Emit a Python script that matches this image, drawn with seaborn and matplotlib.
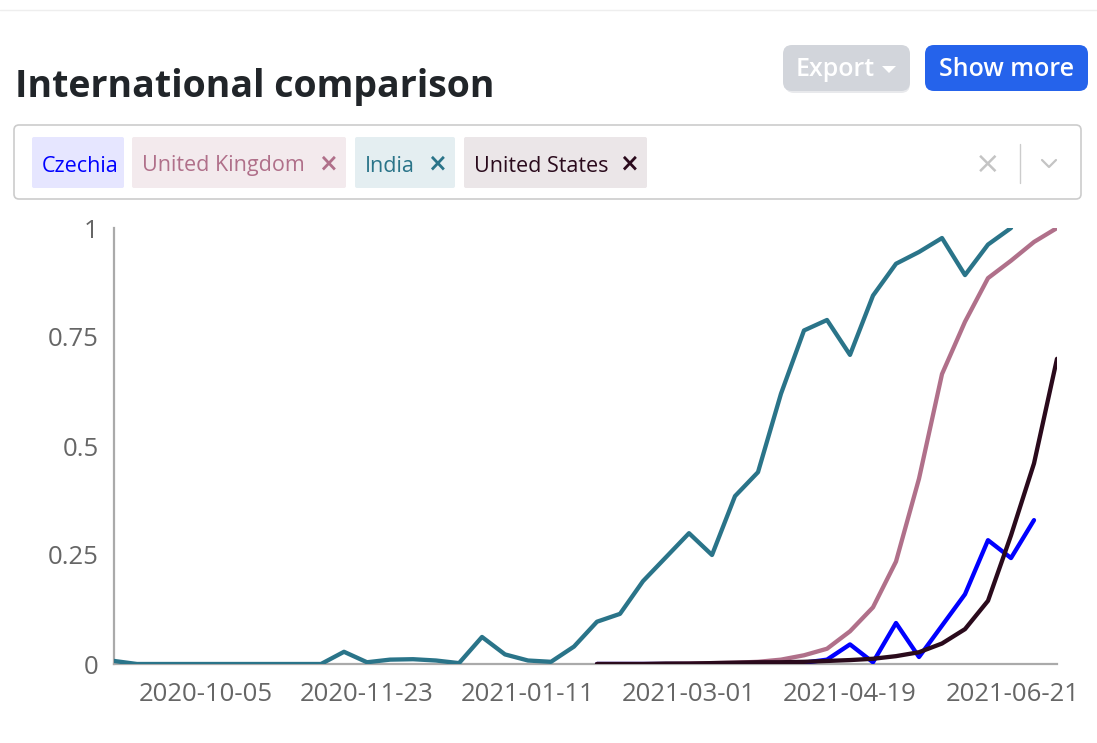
import pandas as pd
import seaborn as sns
import matplotlib.pyplot as plt
from matplotlib.patches import FancyBboxPatch, Polygon
from matplotlib.transforms import ScaledTranslation

# weekly share of population
india_start = "2020-09-07"
india = [0.007, 0, 0, 0, 0, 0, 0, 0, 0, 0,
         0.028, 0.004, 0.010, 0.011, 0.008, 0.002, 0.062, 0.022, 0.008, 0.005,
         0.040, 0.097, 0.115, 0.190, 0.245, 0.300, 0.250, 0.385, 0.440, 0.620,
         0.765, 0.789, 0.709, 0.845, 0.918, 0.945, 0.977, 0.892, 0.962, 1.000]

others_start = "2021-02-01"
czechia = [0, 0, 0, 0, 0, 0, 0, 0.001, 0.002, 0.003,
           0.010, 0.045, 0.004, 0.094, 0.016, 0.088, 0.160, 0.284, 0.243, 0.330]
uk = [0, 0, 0, 0, 0.001, 0.002, 0.003, 0.005, 0.010, 0.020,
      0.035, 0.075, 0.130, 0.235, 0.425, 0.665, 0.785, 0.885, 0.925, 0.968, 1.000]
us = [0, 0, 0, 0.001, 0.001, 0.002, 0.003, 0.004, 0.004, 0.005,
      0.007, 0.009, 0.012, 0.018, 0.027, 0.047, 0.080, 0.145, 0.295, 0.460, 0.700]

countries = ["Czechia", "United Kingdom", "India", "United States"]
colors = {"Czechia": "#0000ff", "United Kingdom": "#b0708a",
          "India": "#2a7489", "United States": "#2a0a1c"}
tag_bg = {"Czechia": "#e6e6ff", "United Kingdom": "#f3eaed",
          "India": "#e4eef1", "United States": "#ebe6e8"}

x_start, x_end = "2020-09-07", "2021-06-21"
x_ticks = ["2020-10-05", "2020-11-23", "2021-01-11", "2021-03-01", "2021-04-19", "2021-06-21"]
y_ticks = [0, 0.25, 0.5, 0.75, 1]
y_labels = ["0", "0.25", "0.5", "0.75", "1"]


def weekly(start, values, name):
    dates = pd.date_range(start, periods=len(values), freq="7D")
    return pd.DataFrame({"date": dates, "share": values, "country": name})


df = pd.concat([
    weekly(others_start, czechia, "Czechia"),
    weekly(others_start, uk, "United Kingdom"),
    weekly(india_start, india, "India"),
    weekly(others_start, us, "United States"),
])

sns.set_theme(style="white")
plt.rcParams["font.family"] = ["Open Sans", "DejaVu Sans"]

W, H = 1097, 743
fig = plt.figure(figsize=(W / 100, H / 100), dpi=100)
fig.patch.set_facecolor("white")

# page elements drawn in pixel coordinates
ui = fig.add_axes([0, 0, 1, 1])
ui.set_xlim(0, W)
ui.set_ylim(H, 0)
ui.axis("off")

ui.plot([0, W], [10, 10], color="#eeeeee", lw=1)
ui.text(15, 97, "International comparison", fontsize=27, fontweight="bold",
        color="#212529", va="baseline", ha="left")

# buttons
ui.add_patch(FancyBboxPatch((785, 48), 125, 45, boxstyle="round,pad=0,rounding_size=9",
                            fc="#e8e9ec", ec="none", zorder=1))
ui.add_patch(FancyBboxPatch((783, 45), 127, 46, boxstyle="round,pad=0,rounding_size=9",
                            fc="#d2d5db", ec="none", zorder=2))
ui.text(835, 69, "Export", fontsize=18, fontweight="semibold", color="white",
        ha="center", va="center", zorder=3)
ui.add_patch(Polygon([[882, 66], [896, 66], [889, 73]], closed=True, fc="white", ec="none", zorder=3))
ui.add_patch(FancyBboxPatch((925, 45), 163, 46, boxstyle="round,pad=0,rounding_size=9",
                            fc="#2563eb", ec="none", zorder=2))
ui.text(1007, 69, "Show more", fontsize=18, fontweight="semibold", color="white",
        ha="center", va="center", zorder=3)

# multi-select box with country tags
ui.add_patch(FancyBboxPatch((14, 125), 1067, 74, boxstyle="round,pad=0,rounding_size=5",
                            fc="white", ec="#cccccc", lw=1.2))
tag_x = {"Czechia": (32, 124), "United Kingdom": (132, 346),
         "India": (355, 455), "United States": (464, 647)}
for name in countries:
    x0, x1 = tag_x[name]
    ui.add_patch(FancyBboxPatch((x0, 137), x1 - x0, 51, boxstyle="round,pad=0,rounding_size=2",
                                fc=tag_bg[name], ec="none"))
    ui.text(x0 + 10, 166, name, fontsize=15.5, color=colors[name], ha="left", va="center")
    if name != "Czechia":
        ui.text(x1 - 18, 164, "×", fontsize=17, fontweight="bold", color=colors[name],
                ha="center", va="center", family=["DejaVu Sans"])
ui.text(988, 164, "×", fontsize=22, color="#c4c4c4", ha="center", va="center", family=["DejaVu Sans"])
ui.plot([1020, 1020], [144, 183], color="#cccccc", lw=1)
ui.plot([1042, 1049, 1056], [160, 167, 160], color="#c4c4c4", lw=1.6)

# chart
ax = fig.add_axes([114 / W, 1 - 664 / H, (1057 - 114) / W, (664 - 228) / H])
ax.patch.set_alpha(0)
sns.lineplot(data=df, x="date", y="share", hue="country", hue_order=countries,
             palette=colors, linewidth=3.1, legend=False, ax=ax,
             solid_joinstyle="round", solid_capstyle="round")

ax.set_xlim(pd.Timestamp(x_start), pd.Timestamp(x_end))
ax.set_ylim(0, 1)
ax.set_xticks(pd.to_datetime(x_ticks))
ax.set_xticklabels(x_ticks)
ax.set_yticks(y_ticks)
ax.set_yticklabels(y_labels)
ax.set_xlabel("")
ax.set_ylabel("")
for side in ["top", "right"]:
    ax.spines[side].set_visible(False)
for side in ["left", "bottom"]:
    ax.spines[side].set_color("#aaaaaa")
    ax.spines[side].set_linewidth(1.6)
    ax.spines[side].set_zorder(0)
ax.tick_params(axis="both", length=6, width=1.4, color="#aaaaaa",
               labelsize=18.5, labelcolor="#666666", pad=5)
ax.tick_params(axis="x", pad=7)

# the last date label is pulled inside the page edge, as in the original
last = ax.get_xticklabels()[-1]
last.set_transform(last.get_transform() + ScaledTranslation(-0.44, 0, fig.dpi_scale_trans))

fig.savefig("out.png", dpi=100)
